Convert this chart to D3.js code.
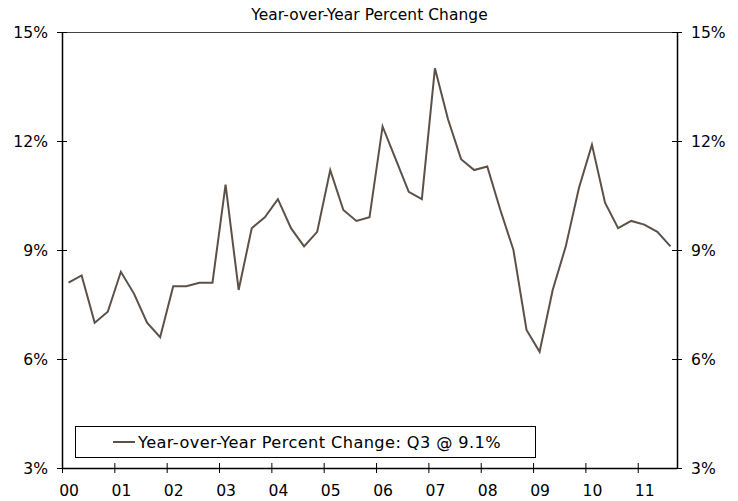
<!DOCTYPE html>
<html>
<head>
<meta charset="utf-8">
<script src="https://cdn.jsdelivr.net/npm/d3@7"></script>
<style>
  body { margin: 0; background: #fff; }
  text { font-family: "DejaVu Sans", Verdana, sans-serif; }
</style>
</head>
<body>
<div id="chart"></div>
<script>
const title = 'Year-over-Year Percent Change'
const yearLabels = ['00','01','02','03','04','05','06','07','08','09','10','11']
// quarterly YoY % change, 2000 Q1 .. 2011 Q3
const yoy = [
  8.1, 8.3, 7.0, 7.3,
  8.4, 7.8, 7.0, 6.6,
  8.0, 8.0, 8.1, 8.1,
  10.8, 7.9, 9.6, 9.9,
  10.4, 9.6, 9.1, 9.5,
  11.2, 10.1, 9.8, 9.9,
  12.4, 11.5, 10.6, 10.4,
  14.0, 12.6, 11.5, 11.2,
  11.3, 10.1, 9.0, 6.8,
  6.2, 7.9, 9.1, 10.7,
  11.9, 10.3, 9.6, 9.8,
  9.7, 9.5, 9.1
]
const yTicks = [3, 6, 9, 12, 15]
const legendLabel = 'Year-over-Year Percent Change: Q3 @ 9.1%'

const W = 738, H = 501
const m = {left: 62, right: 61, top: 32, bottom: 33}
const lineColor = '#5c5148'

const svg = d3.select('#chart').append('svg').attr('width', W).attr('height', H)

const quarters = yoy.map((v, i) => i)
const x = d3.scaleBand().domain(quarters).range([m.left, W - m.right]).paddingInner(0).paddingOuter(0)
const y = d3.scaleLinear().domain([3, 15]).range([H - m.bottom, m.top])
const bw = x.bandwidth()

// top frame line
svg.append('line')
  .attr('x1', m.left).attr('x2', W - m.right)
  .attr('y1', m.top + 0.5).attr('y2', m.top + 0.5)
  .attr('stroke', '#444').attr('stroke-width', 1)

// left axis
const yl = svg.append('g').attr('transform', `translate(${m.left},0)`)
  .call(d3.axisLeft(y).tickValues(yTicks).tickFormat(d => d + '%').tickSize(5).tickPadding(9))
const yr = svg.append('g').attr('transform', `translate(${W - m.right},0)`)
  .call(d3.axisRight(y).tickValues(yTicks).tickFormat(d => d + '%').tickSize(5).tickPadding(9))
yl.selectAll('.tick line').attr('x2', 5).attr('x1', -5)
yr.selectAll('.tick line').attr('x1', -5).attr('x2', 5)
yl.selectAll('.tick text').attr('x', -14)
yr.selectAll('.tick text').attr('x', 14)

// bottom axis: one tick at the start of each year
const yearStarts = yearLabels.map((l, i) => i * 4)
const xb = svg.append('g').attr('transform', `translate(0,${H - m.bottom})`)
  .call(d3.axisBottom(d3.scaleLinear().domain([0, yoy.length]).range([m.left, W - m.right]))
    .tickValues(yearStarts).tickFormat((d, i) => yearLabels[i]).tickSize(5).tickPadding(12))
xb.selectAll('.tick line').attr('y1', -5).attr('y2', 5)
xb.selectAll('.tick text').attr('dx', bw / 2)

svg.selectAll('.domain').attr('stroke', '#000').attr('stroke-width', 1.5)
svg.selectAll('.tick line').attr('stroke', '#000').attr('stroke-width', 1)
svg.selectAll('.tick text').attr('font-size', 15.6).attr('fill', '#000')
  .attr('font-family', '"DejaVu Sans", Verdana, sans-serif')
yl.select('.domain').attr('d', `M0.5,${m.top}V${H - m.bottom}`)
yr.select('.domain').attr('d', `M0.5,${m.top}V${H - m.bottom}`)
xb.select('.domain').attr('d', `M${m.left},0.5H${W - m.right}`)

// series
const line = d3.line().x((d, i) => x(i) + bw / 2).y(d => y(d))
svg.append('path').datum(yoy)
  .attr('d', line)
  .attr('fill', 'none')
  .attr('stroke', lineColor)
  .attr('stroke-width', 2)
  .attr('stroke-linejoin', 'miter')

// title
svg.append('text').attr('x', (m.left + W - m.right) / 2).attr('y', 20)
  .attr('text-anchor', 'middle').attr('font-size', 15.4).attr('letter-spacing', 0.1).text(title)

// legend
const lg = svg.append('g')
lg.append('rect').attr('x', 75.5).attr('y', 426.5).attr('width', 460).attr('height', 31)
  .attr('fill', '#fff').attr('stroke', '#000').attr('stroke-width', 1)
lg.append('line').attr('x1', 113).attr('x2', 135).attr('y1', 442).attr('y2', 442)
  .attr('stroke', lineColor).attr('stroke-width', 2)
lg.append('text').attr('x', 138).attr('y', 448).attr('font-size', 16.2).attr('letter-spacing', 0.4).text(legendLabel)
</script>
</body>
</html>
